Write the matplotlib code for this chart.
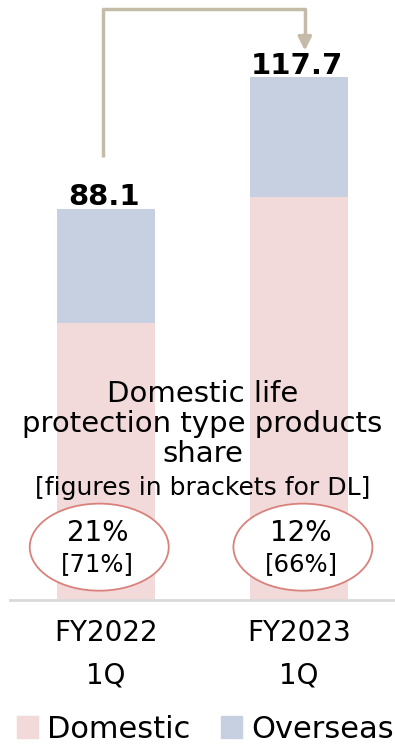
import matplotlib.pyplot as plt
from matplotlib.patches import Ellipse, Patch

plt.rcParams['font.family'] = ['DejaVu Sans']

periods = ["FY2022\n1Q", "FY2023\n1Q"]
domestic = [62.4, 90.8]
overseas = [25.7, 26.9]
totals = [88.1, 117.7]
share = ["21%", "12%"]
share_dl = ["[71%]", "[66%]"]

c_dom = "#F2D9DA"
c_ovs = "#C7D0E0"
c_arrow = "#C4BBA8"

fig = plt.figure(figsize=(3.95, 7.44), dpi=100)
ax = fig.add_axes([0, 144 / 744, 1, 600 / 744])
ax.set_xlim(-0.549, 1.497)
ax.set_ylim(0, 135.1)
ax.axis("off")

x = [0, 1]
ax.bar(x, domestic, width=0.51, color=c_dom, zorder=1)
ax.bar(x, overseas, bottom=domestic, width=0.51, color=c_ovs, zorder=1)
ax.plot([-0.497, 1.5], [0, 0], color="#D9D9D9", lw=2, clip_on=False, zorder=2)

for i in x:
    ax.text(i - 0.01, totals[i] - 0.6, f"{totals[i]:.1f}", ha="center", va="bottom",
            fontsize=21, fontweight="bold", zorder=3)

# arrow between totals
y0 = totals[0] + 11.7
ytop = 133
ytip = totals[1] + 6
ax.plot([-0.015, -0.015, 1.03, 1.03], [y0, ytop, ytop, ytip + 3], color=c_arrow, lw=2.5,
        solid_capstyle="butt", clip_on=False)
ax.annotate("", xy=(1.03, ytip), xytext=(1.03, ytip + 3.6),
            arrowprops=dict(arrowstyle="-|>,head_width=0.4,head_length=0.8",
                            color=c_arrow, lw=2.5, shrinkA=0, shrinkB=0))

ax.text(0.5, 39.6, "Domestic life\nprotection type products\nshare", ha="center", va="center",
        fontsize=21, linespacing=1.1, zorder=3)
ax.text(0.5, 25.2, "[figures in brackets for DL]", ha="center", va="center",
        fontsize=18, zorder=3)

ell_x = [-0.035, 1.02]
for i in x:
    ax.add_patch(Ellipse((ell_x[i], 11.9), 0.72, 19.6, facecolor="white",
                         edgecolor="#D9827C", lw=1.3, zorder=2))
    ax.text(ell_x[i] - 0.01, 15.0, share[i], ha="center", va="center", fontsize=20, zorder=3)
    ax.text(ell_x[i] - 0.01, 8.0, share_dl[i], ha="center", va="center", fontsize=17.5, zorder=3)
    ax.text(i, -7.5, periods[i].split("\n")[0], ha="center", va="center", fontsize=20, clip_on=False)
    ax.text(i, -17.0, periods[i].split("\n")[1], ha="center", va="center", fontsize=20, clip_on=False)

handles = [Patch(color=c_dom, label="Domestic"), Patch(color=c_ovs, label="Overseas")]
fig.legend(handles=handles, loc="center", bbox_to_anchor=(0.52, 15 / 744), ncol=2,
           frameon=False, fontsize=22, handlelength=0.7, handleheight=0.7,
           handletextpad=0.3, columnspacing=1.0, borderaxespad=0)

fig.savefig("out.png", dpi=100)
